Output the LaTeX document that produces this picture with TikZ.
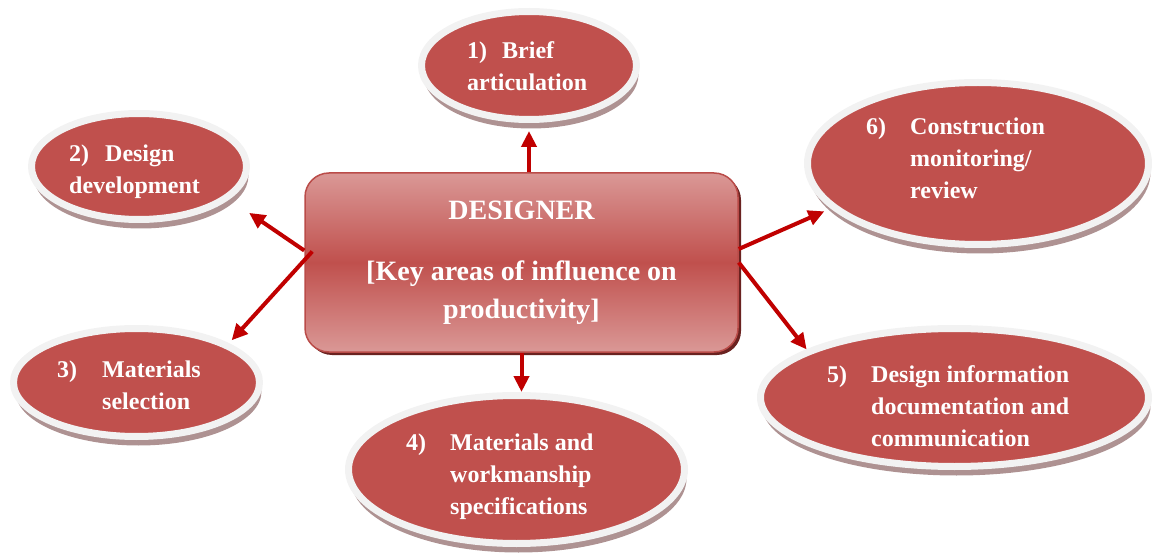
\documentclass[tikz,border=0pt]{standalone}
\usepackage{fontspec}
\setmainfont{Liberation Serif}
\usetikzlibrary{shapes.geometric,shadows,arrows.meta}
\definecolor{bubred}{HTML}{C0504D}
\definecolor{rim}{HTML}{F2F2F2}
\definecolor{bubshade}{HTML}{AE9292}
\definecolor{arrred}{HTML}{C00000}
\definecolor{boxlt}{HTML}{DA9896}
\definecolor{boxmd}{HTML}{C0504D}
\definecolor{boxedge}{HTML}{BA4C49}
\definecolor{boxshade}{HTML}{6A2220}
\begin{document}
\begin{tikzpicture}[x=1pt, y=1pt, line join=round,
	>={Triangle[length=16pt,width=15pt]},
	bubble/.style={ellipse, fill=bubred, draw=rim, line width=7pt, inner sep=0pt,
		drop shadow={shadow xshift=2pt, shadow yshift=-9pt, fill=bubshade, opacity=1}},
	item/.style={anchor=base west, align=left, inner sep=0pt, text=white,
		font=\bfseries\fontsize{24}{32}\selectfont},
	arr/.style={->, draw=arrred, fill=arrred, line width=4pt}]
	\useasboundingbox (0,0) rectangle (1152,-556);
	% centre box
	\node[rectangle, rounded corners=24pt, minimum width=433pt, minimum height=179pt,
		top color=boxlt, bottom color=boxlt, middle color=boxmd, draw=boxedge, line width=1.5pt,
		drop shadow={shadow xshift=3pt, shadow yshift=-3pt, fill=boxshade, opacity=1},
		align=center, text=white, font=\bfseries\fontsize{28}{38}\selectfont]
		(designer) at (521.5,-262.5) {DESIGNER\\[23pt]{[}Key areas of influence on\\productivity]};
	% the six areas
	\node[bubble, minimum width=215pt, minimum height=108pt] (brief) at (529,-65.5) {};
	\node[bubble, minimum width=215pt, minimum height=106pt] (devel) at (139,-166.5) {};
	\node[bubble, minimum width=246pt, minimum height=108pt] (matsel) at (136.5,-382.5) {};
	\node[bubble, minimum width=336pt, minimum height=148pt] (specs) at (516.5,-469.5) {};
	\node[bubble, minimum width=388pt, minimum height=138pt] (docu) at (954.5,-397.5) {};
	\node[bubble, minimum width=341pt, minimum height=162pt] (review) at (978,-163.5) {};
	% texts, placed by the baseline of their last line
	\node[item] (t1) at (467,-91) {\makebox[35pt][l]{1)}Brief\\articulation};
	\node[item] (t2) at (69,-194) {\makebox[36pt][l]{2)}Design\\development};
	\node[item] (t3) at (57,-409) {\makebox[45pt][l]{3)}Materials\\\hspace*{45pt}selection};
	\node[item] (t4) at (406,-514) {\makebox[44pt][l]{4)}Materials and\\\hspace*{44pt}workmanship\\\hspace*{44pt}specifications};
	\node[item] (t5) at (827,-446) {\makebox[44pt][l]{5)}Design information\\\hspace*{44pt}documentation and\\\hspace*{44pt}communication};
	\node[item] (t6) at (866,-199) {\makebox[44pt][l]{6)}Construction\\\hspace*{44pt}monitoring/\\\hspace*{44pt}review};
	% arrows
	\draw[arr, shorten >=8pt] (designer.north -| brief.south) -- (brief.south);
	\draw[arr, shorten >=24pt] ([yshift=12pt]designer.west) -- (devel.-20);
	\draw[arr, shorten >=4pt] ([shift={(8pt,11pt)}]designer.west) -- (matsel.23);
	\draw[arr] (designer.south) -- (designer.south |- specs.north);
	\draw[arr] (designer.east) -- (docu.162);
	\draw[arr, shorten >=7pt] ([yshift=13.5pt]designer.east) -- (review.-163);
\end{tikzpicture}
\end{document}
